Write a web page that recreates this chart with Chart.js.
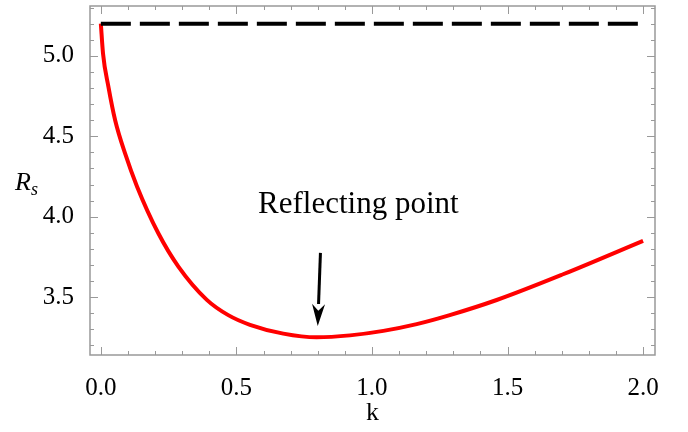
<!DOCTYPE html>
<html>
<head>
<meta charset="utf-8">
<script src="https://cdn.jsdelivr.net/npm/chart.js@4.4.1/dist/chart.umd.min.js"></script>
<style>
  html,body{margin:0;background:#fff}
</style>
</head>
<body>
<canvas id="chart" width="688" height="432"></canvas>
<script>
// curve
const kValues  = [0, 0.008, 0.028, 0.053, 0.09, 0.133, 0.212, 0.286, 0.391, 0.47, 0.55, 0.673, 0.796, 0.919, 1.042, 1.165, 1.287, 1.46, 1.705, 2.0];
const rsValues = [5.2, 5.015, 4.807, 4.598, 4.39, 4.19, 3.897, 3.69, 3.483, 3.388, 3.328, 3.273, 3.25, 3.262, 3.29, 3.332, 3.388, 3.482, 3.642, 3.85];
// dashed limit line
const limitK  = [0, 2.0];
const limitRs = [5.2, 5.2];

const xMajor = [0, 0.5, 1.0, 1.5, 2.0];
const xMinor = [0.1, 0.2, 0.3, 0.4, 0.6, 0.7, 0.8, 0.9, 1.1, 1.2, 1.3, 1.4, 1.6, 1.7, 1.8, 1.9];
const yMajor = [3.5, 4.0, 4.5, 5.0];
const yMinor = [3.2, 3.3, 3.4, 3.6, 3.7, 3.8, 3.9, 4.1, 4.2, 4.3, 4.4, 4.6, 4.7, 4.8, 4.9, 5.1, 5.2, 5.3];

const noteText = "Reflecting point";
const notePos  = [0.95, 4.02];
const arrowFrom = [0.81, 3.775];
const arrowTo   = [0.80, 3.32];

const serif = "'Liberation Serif','Times New Roman',serif";

const frame = {
  id: "frame",
  afterDraw(c){
    const ctx = c.ctx, a = c.chartArea, X = c.scales.x, Y = c.scales.y;
    ctx.save();
    ctx.strokeStyle = "#999"; ctx.lineWidth = 1.5;
    ctx.strokeRect(a.left, a.top, a.right - a.left, a.bottom - a.top);
    ctx.lineWidth = 1;
    const tx = (v, len) => {
      const p = Math.round(X.getPixelForValue(v)) + 0.5;
      ctx.beginPath();
      ctx.moveTo(p, a.bottom); ctx.lineTo(p, a.bottom - len);
      ctx.moveTo(p, a.top); ctx.lineTo(p, a.top + len);
      ctx.stroke();
    };
    const ty = (v, len) => {
      const p = Math.round(Y.getPixelForValue(v)) + 0.5;
      ctx.beginPath();
      ctx.moveTo(a.left, p); ctx.lineTo(a.left + len, p);
      ctx.moveTo(a.right, p); ctx.lineTo(a.right - len, p);
      ctx.stroke();
    };
    xMajor.forEach(v => tx(v, 8)); xMinor.forEach(v => tx(v, 4));
    yMajor.forEach(v => ty(v, 8)); yMinor.forEach(v => ty(v, 4));

    // arrow
    const x1 = X.getPixelForValue(arrowFrom[0]), y1 = Y.getPixelForValue(arrowFrom[1]);
    const x2 = X.getPixelForValue(arrowTo[0]), y2 = Y.getPixelForValue(arrowTo[1]);
    const ang = Math.atan2(y2 - y1, x2 - x1), hl = 22, hw = 6.5;
    const bx = x2 - hl * Math.cos(ang), by = y2 - hl * Math.sin(ang);
    ctx.strokeStyle = "#000"; ctx.fillStyle = "#000"; ctx.lineWidth = 3;
    ctx.beginPath(); ctx.moveTo(x1, y1); ctx.lineTo(bx, by); ctx.stroke();
    ctx.beginPath();
    ctx.moveTo(x2, y2);
    ctx.lineTo(bx + hw * Math.sin(ang), by - hw * Math.cos(ang));
    ctx.lineTo(x2 - 0.7 * hl * Math.cos(ang), y2 - 0.7 * hl * Math.sin(ang));
    ctx.lineTo(bx - hw * Math.sin(ang), by + hw * Math.cos(ang));
    ctx.closePath(); ctx.fill();

    // note
    ctx.font = "31px " + serif;
    ctx.textAlign = "center"; ctx.textBaseline = "alphabetic";
    ctx.fillText(noteText, X.getPixelForValue(notePos[0]), Y.getPixelForValue(notePos[1]));

    // axis labels
    ctx.font = "26px " + serif;
    ctx.fillText("k", (a.left + a.right) / 2, 420);
    ctx.textAlign = "left";
    ctx.font = "italic 26px " + serif;
    ctx.fillText("R", 15, 190);
    const w = ctx.measureText("R").width;
    ctx.font = "italic 18px " + serif;
    ctx.fillText("s", 15 + w, 195);
    ctx.restore();
  }
};

const noPad = s => { s.paddingTop = 0; s.paddingBottom = 0; s.paddingLeft = 0; s.paddingRight = 0; };

new Chart(document.getElementById("chart"), {
  type: "line",
  data: {
    datasets: [
      {
        data: limitK.map((k, i) => ({x: k, y: limitRs[i]})),
        borderColor: "#000", borderWidth: 4, borderDash: [30, 9],
        pointRadius: 0, fill: false
      },
      {
        data: kValues.map((k, i) => ({x: k, y: rsValues[i]})),
        borderColor: "#ff0000", borderWidth: 4,
        pointRadius: 0, fill: false, cubicInterpolationMode: "monotone"
      }
    ]
  },
  options: {
    responsive: false, animation: false, devicePixelRatio: 1,
    layout: {padding: {left: 0, right: 33, top: 6, bottom: 0}},
    plugins: {legend: {display: false}, tooltip: {enabled: false}},
    scales: {
      x: {
        type: "linear", min: -0.04, max: 2.044,
        grid: {display: false}, border: {display: false},
        ticks: {
          stepSize: 0.5, includeBounds: false, padding: 10,
          color: "#000", font: {family: serif, size: 25},
          callback: v => v.toFixed(1), maxRotation: 0
        },
        afterFit: s => { s.height = 77; noPad(s); }
      },
      y: {
        min: 3.14, max: 5.31,
        grid: {display: false}, border: {display: false},
        ticks: {
          stepSize: 0.5, includeBounds: false, padding: 8,
          color: "#000", font: {family: serif, size: 25},
          callback: v => v.toFixed(1)
        },
        afterFit: s => { s.width = 90; noPad(s); }
      }
    }
  },
  plugins: [frame]
});
</script>
</body>
</html>
